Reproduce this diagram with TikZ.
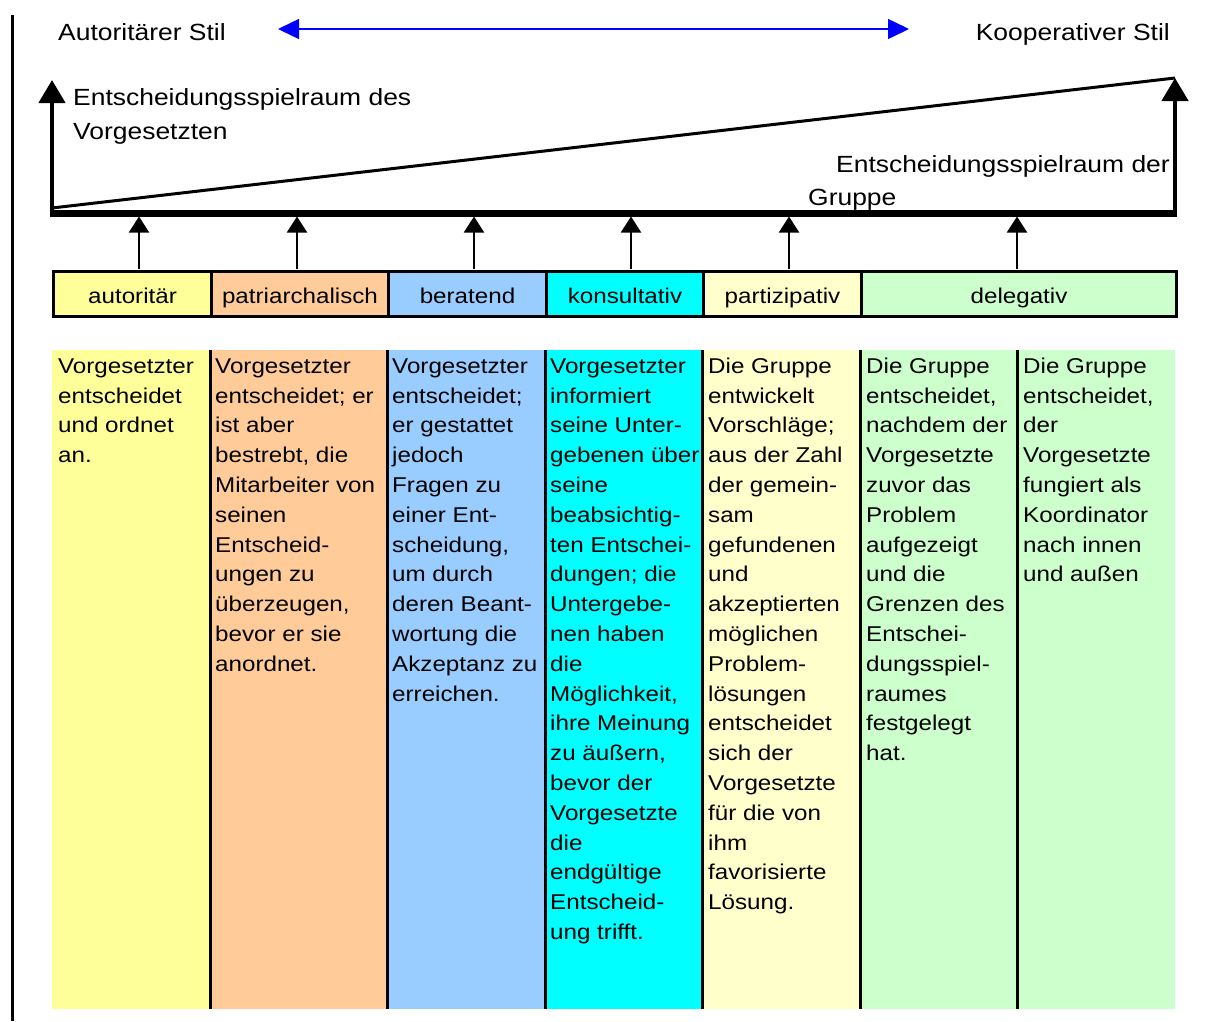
\documentclass[tikz,border=0pt]{standalone}
\usepackage{fontspec}
\setmainfont{Liberation Sans}[FakeStretch=1.13]
\usetikzlibrary{arrows.meta,calc}

\definecolor{cAut}{HTML}{FFFF99}
\definecolor{cPat}{HTML}{FFCC99}
\definecolor{cBer}{HTML}{99CCFF}
\definecolor{cKon}{HTML}{00FFFF}
\definecolor{cPar}{HTML}{FFFFCC}
\definecolor{cDel}{HTML}{CCFFCC}

\begin{document}
\begin{tikzpicture}[x=1pt,y=-1pt,
  bodyfont/.style={font=\fontsize{21.4}{29.8}\selectfont},
  topfont/.style={font=\fontsize{23.4}{34}\selectfont},
  labelbox/.style={draw=black,line width=3pt,minimum height=45pt,inner sep=0pt,
    anchor=north west,text height=20pt,text depth=2pt,bodyfont},
  colfill/.style={draw=none,inner sep=0pt,minimum height=659pt,anchor=north west},
  coltext/.style={anchor=north west,inner sep=0pt,align=left,bodyfont},
  divider/.style={line width=3pt},
  bigarrow/.style={line width=4.5pt,-{Triangle[length=23pt,width=26pt]}},
  smallarrow/.style={line width=2pt,-{Triangle[length=16pt,width=20pt]}},
  scalearrow/.style={draw=blue,line width=1.5pt,
    {Triangle[length=21pt,width=20pt]}-{Triangle[length=21pt,width=20pt]}},
]
\useasboundingbox (0,0) rectangle (1209,1021);

% left margin rule
\draw[line width=3pt] (12.5,15) -- (12.5,1021);

% style scale at the top
\node[topfont,anchor=base west,inner sep=0pt] (aut) at (58,40) {Autoritärer Stil};
\node[topfont,anchor=base east,inner sep=0pt] (koo) at (1170,40) {Kooperativer Stil};
\coordinate (scaleL) at (278,29);
\coordinate (scaleR) at (909,29);
\draw[scalearrow] (scaleL) -- (scaleR);

% decision latitude wedge
\coordinate (wedgeBL) at (52,216.5);
\coordinate (wedgeBR) at (1175,216.5);
\coordinate (wedgeTL) at (52,80);
\coordinate (wedgeTR) at (1175,78);
\coordinate (diagL) at (52,208);
\draw[line width=3pt] (diagL) -- (wedgeTR);
\draw[bigarrow] (wedgeBL) -- (wedgeTL);
\draw[bigarrow] (wedgeBR) -- (wedgeTR);
\coordinate (barL) at (49.75,213);
\coordinate (barR) at (1177.25,213);
\draw[line width=7pt] (barL) -- (barR);
\coordinate (bar) at (0,216.5);

\node[coltext,topfont] (boss) at (73,85)
  {\rule{0pt}{20pt}Entscheidungsspielraum des\\Vorgesetzten};
\node[topfont,anchor=base east,inner sep=0pt] (grp1) at (1170,172) {Entscheidungsspielraum der};
\node[topfont,anchor=base west,inner sep=0pt] (grp2) at (808,205) {Gruppe};

% style labels
\node[labelbox,fill=cAut,minimum width=158pt] (lab1) at (52,270) {autoritär};
\node[labelbox,fill=cPat,minimum width=177pt] (lab2) at (210,270) {patriarchalisch};
\node[labelbox,fill=cBer,minimum width=158pt] (lab3) at (387,270) {beratend};
\node[labelbox,fill=cKon,minimum width=157pt] (lab4) at (545,270) {konsultativ};
\node[labelbox,fill=cPar,minimum width=158pt] (lab5) at (702,270) {partizipativ};
\node[labelbox,fill=cDel,minimum width=315pt] (lab6) at (860,270) {delegativ};

% arrows from the labels up to the bar
\foreach \n/\x in {1/139,2/297,3/474,4/631,5/789,6/1017} {
  \coordinate (foot\n) at (\x,268.5);
  \draw[smallarrow] (foot\n) -- (foot\n |- bar);
}

% description columns
\node[colfill,fill=cAut,minimum width=158pt] (col1) at (52,350) {};
\node[colfill,fill=cPat,minimum width=177pt] (col2) at (210,350) {};
\node[colfill,fill=cBer,minimum width=158pt] (col3) at (387,350) {};
\node[colfill,fill=cKon,minimum width=157pt] (col4) at (545,350) {};
\node[colfill,fill=cPar,minimum width=158pt] (col5) at (702,350) {};
\node[colfill,fill=cDel,minimum width=157pt] (col6) at (860,350) {};
\node[colfill,fill=cDel,minimum width=158pt] (col7) at (1017,350) {};
\foreach \c in {2,3,4,5,6,7} {
  \draw[divider] (col\c.north west) -- (col\c.south west);
}

\node[coltext] (txt1) at (58,353) {\rule{0pt}{20pt}Vorgesetzter\\entscheidet\\und ordnet\\an.};
\node[coltext] (txt2) at (215,353) {\rule{0pt}{20pt}Vorgesetzter\\entscheidet; er\\ist aber\\bestrebt, die\\Mitarbeiter von\\seinen\\Entscheid-\\ungen zu\\überzeugen,\\bevor er sie\\anordnet.};
\node[coltext] (txt3) at (392,353) {\rule{0pt}{20pt}Vorgesetzter\\entscheidet;\\er gestattet\\jedoch\\Fragen zu\\einer Ent-\\scheidung,\\um durch\\deren Beant-\\wortung die\\Akzeptanz zu\\erreichen.};
\node[coltext] (txt4) at (550,353) {\rule{0pt}{20pt}Vorgesetzter\\informiert\\seine Unter-\\gebenen über\\seine\\beabsichtig-\\ten Entschei-\\dungen; die\\Untergebe-\\nen haben\\die\\Möglichkeit,\\ihre Meinung\\zu äußern,\\bevor der\\Vorgesetzte\\die\\endgültige\\Entscheid-\\ung trifft.};
\node[coltext] (txt5) at (708,353) {\rule{0pt}{20pt}Die Gruppe\\entwickelt\\Vorschläge;\\aus der Zahl\\der gemein-\\sam\\gefundenen\\und\\akzeptierten\\möglichen\\Problem-\\lösungen\\entscheidet\\sich der\\Vorgesetzte\\für die von\\ihm\\favorisierte\\Lösung.};
\node[coltext] (txt6) at (866,353) {\rule{0pt}{20pt}Die Gruppe\\entscheidet,\\nachdem der\\Vorgesetzte\\zuvor das\\Problem\\aufgezeigt\\und die\\Grenzen des\\Entschei-\\dungsspiel-\\raumes\\festgelegt\\hat.};
\node[coltext] (txt7) at (1023,353) {\rule{0pt}{20pt}Die Gruppe\\entscheidet,\\der\\Vorgesetzte\\fungiert als\\Koordinator\\nach innen\\und außen};
\end{tikzpicture}
\end{document}
